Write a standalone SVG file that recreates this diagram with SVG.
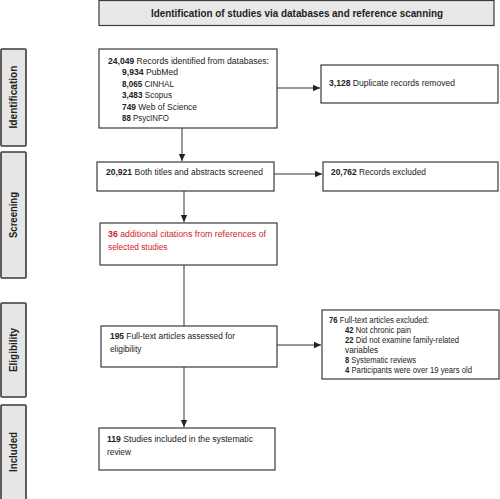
<svg xmlns="http://www.w3.org/2000/svg" width="500" height="499" viewBox="0 0 500 499">
<style>
.box{fill:#fff;stroke:#3a3a3a;stroke-width:1.2}
.side{fill:#e6e6e6;stroke:#3a3a3a;stroke-width:1.6}
.t{font-family:"Liberation Sans",Arial,sans-serif;font-size:8.3px;fill:#222}
.b{font-weight:bold}
.red{fill:#d2232a}
.hd{font-family:"Liberation Sans",Arial,sans-serif;font-size:10px;font-weight:bold;fill:#222}
.con{stroke:#333;stroke-width:1;fill:none;marker-end:url(#ah)}
</style>
<defs>
<marker id="ah" markerWidth="8" markerHeight="8" refX="7" refY="4" orient="auto" markerUnits="userSpaceOnUse">
<path d="M0,0.8 L7,4 L0,7.2 Z" fill="#222"/>
</marker>
</defs>
<rect width="500" height="499" fill="#fff"/>
<g id="title">
<rect x="99" y="0.5" width="395" height="25" fill="#e8e8e8" stroke="#3a3a3a" stroke-width="1.2"/>
<text class="hd" x="297" y="17" text-anchor="middle" textLength="292" lengthAdjust="spacingAndGlyphs">Identification of studies via databases and reference scanning</text>
</g>
<g id="side-identification">
<rect class="side" x="1" y="49" width="25" height="97" rx="1"/>
<text class="hd" transform="translate(17,97) rotate(-90)" text-anchor="middle" textLength="63" lengthAdjust="spacingAndGlyphs">Identification</text>
</g>
<g id="side-screening">
<rect class="side" x="1" y="152" width="25" height="126" rx="1"/>
<text class="hd" transform="translate(17,215) rotate(-90)" text-anchor="middle" textLength="46" lengthAdjust="spacingAndGlyphs">Screening</text>
</g>
<g id="side-eligibility">
<rect class="side" x="1" y="303" width="25" height="94" rx="1"/>
<text class="hd" transform="translate(17,350) rotate(-90)" text-anchor="middle" textLength="44" lengthAdjust="spacingAndGlyphs">Eligibility</text>
</g>
<g id="side-included">
<rect class="side" x="1" y="405" width="25" height="100" rx="1"/>
<text class="hd" transform="translate(17,452) rotate(-90)" text-anchor="middle" textLength="40" lengthAdjust="spacingAndGlyphs">Included</text>
</g>
<g id="connectors">
<line class="con" x1="277" y1="88" x2="320" y2="88"/>
<line class="con" x1="182" y1="128" x2="182" y2="161"/>
<line class="con" x1="274" y1="174" x2="322" y2="174"/>
<line class="con" x1="184" y1="191" x2="184" y2="222"/>
<line x1="184" y1="265" x2="184" y2="326" stroke="#333" stroke-width="1"/>
<line class="con" x1="277" y1="345" x2="321" y2="345"/>
<line class="con" x1="184" y1="367" x2="184" y2="427"/>
</g>
<g id="records">
<rect class="box" x="99" y="49" width="178" height="79"/>
<text class="t" x="108" y="63.5" textLength="161" lengthAdjust="spacingAndGlyphs"><tspan class="b">24,049</tspan> Records identified from databases:</text>
<text class="t" x="122" y="75" textLength="56" lengthAdjust="spacingAndGlyphs"><tspan class="b">9,934</tspan> PubMed</text>
<text class="t" x="122" y="86.5" textLength="52" lengthAdjust="spacingAndGlyphs"><tspan class="b">8,065</tspan> CINHAL</text>
<text class="t" x="122" y="98" textLength="50" lengthAdjust="spacingAndGlyphs"><tspan class="b">3,483</tspan> Scopus</text>
<text class="t" x="122" y="109.5" textLength="75" lengthAdjust="spacingAndGlyphs"><tspan class="b">749</tspan> Web of Science</text>
<text class="t" x="122" y="121" textLength="47" lengthAdjust="spacingAndGlyphs"><tspan class="b">88</tspan> PsycINFO</text>
</g>
<g id="duplicates">
<rect class="box" x="321" y="65" width="177" height="38"/>
<text class="t" x="329" y="86" textLength="126" lengthAdjust="spacingAndGlyphs"><tspan class="b">3,128</tspan> Duplicate records removed</text>
</g>
<g id="screened">
<rect class="box" x="97" y="162" width="177" height="29"/>
<text class="t" x="106" y="175" textLength="157" lengthAdjust="spacingAndGlyphs"><tspan class="b">20,921</tspan> Both titles and abstracts screened</text>
</g>
<g id="excluded">
<rect class="box" x="323" y="162" width="175" height="29"/>
<text class="t" x="331" y="175" textLength="95" lengthAdjust="spacingAndGlyphs"><tspan class="b">20,762</tspan> Records excluded</text>
</g>
<g id="additional">
<rect class="box" x="100" y="223" width="177" height="42"/>
<text class="t red" x="108" y="237" textLength="158" lengthAdjust="spacingAndGlyphs"><tspan class="b">36</tspan> additional citations from references of</text>
<text class="t red" x="108" y="250">selected studies</text>
</g>
<g id="fulltext">
<rect class="box" x="101" y="326" width="176" height="41"/>
<text class="t" x="110" y="339" textLength="125" lengthAdjust="spacingAndGlyphs"><tspan class="b">195</tspan> Full-text articles assessed for</text>
<text class="t" x="110" y="352">eligibility</text>
</g>
<g id="fulltext-excluded">
<rect class="box" x="322" y="310" width="177" height="69"/>
<text class="t" x="329" y="323" textLength="100" lengthAdjust="spacingAndGlyphs"><tspan class="b">76</tspan> Full-text articles excluded:</text>
<text class="t" x="345" y="333" textLength="66" lengthAdjust="spacingAndGlyphs"><tspan class="b">42</tspan> Not chronic pain</text>
<text class="t" x="345" y="343" textLength="114" lengthAdjust="spacingAndGlyphs"><tspan class="b">22</tspan> Did not examine family-related</text>
<text class="t" x="345" y="353">variables</text>
<text class="t" x="345" y="363" textLength="71" lengthAdjust="spacingAndGlyphs"><tspan class="b">8</tspan> Systematic reviews</text>
<text class="t" x="345" y="373" textLength="127" lengthAdjust="spacingAndGlyphs"><tspan class="b">4</tspan> Participants were over 19 years old</text>
</g>
<g id="included">
<rect class="box" x="99" y="428" width="176" height="42"/>
<text class="t" x="107" y="442" textLength="146" lengthAdjust="spacingAndGlyphs"><tspan class="b">119</tspan> Studies included in the systematic</text>
<text class="t" x="107" y="455">review</text>
</g>
</svg>
